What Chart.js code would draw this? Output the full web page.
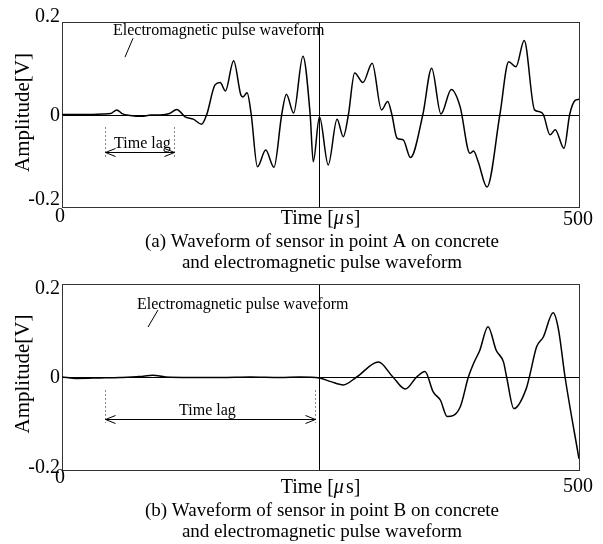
<!DOCTYPE html>
<html>
<head>
<meta charset="utf-8">
<script src="https://cdn.jsdelivr.net/npm/chart.js@4.4.0/dist/chart.umd.min.js"></script>
<style>
  html, body { margin: 0; padding: 0; background: #fff; }
  .panel { position: absolute; left: 0; width: 603px; height: 272px; }
</style>
</head>
<body>
<div class="panel" style="top:0"><canvas id="chartA" width="603" height="272"></canvas></div>
<div class="panel" style="top:272px"><canvas id="chartB" width="603" height="272"></canvas></div>
<script>
// time [us] / amplitude [V]
const timeA = [0, 20, 40, 47, 53, 58, 66, 77, 86, 95, 104, 111, 119, 127, 135, 140, 148, 153, 158, 166,
  173, 175, 179, 183, 189, 197, 205, 212.5, 217, 224, 233, 240, 243, 249, 257.5, 266, 272, 277, 283, 291,
  300, 309, 315, 319, 324, 330, 337, 349, 357.5, 366.5, 376.5, 385, 394.5, 398, 402.5, 411, 423.5, 432, 439, 447,
  457, 462, 465.5, 472, 477, 485.5, 491, 496, 500];
const ampA = [0, 0, 0.001, 0.002, 0.010, 0.002, -0.002, -0.004, -0.001, -0.001, 0.002, 0.011, -0.005, -0.010, -0.021, 0, 0.064, 0.069, 0.051, 0.116,
  0.042, 0.038, 0.047, 0, -0.113, -0.077, -0.114, 0, 0.044, 0.003, 0.126, 0, -0.102, -0.005, -0.109, -0.010, -0.048, 0, 0.090, 0.069,
  0.111, 0.010, 0.028, 0, -0.051, -0.055, -0.093, 0, 0.100, 0.001, 0.054, 0.017, -0.084, -0.079, -0.102, -0.157, 0, 0.114, 0.103, 0.160,
  0.010, 0.006, 0, -0.044, -0.033, -0.073, 0, 0.030, 0.033];

const timeB = [0, 14, 37, 56, 75, 88, 100, 124, 153, 182, 211, 230, 249, 260, 272, 285, 306, 320, 332, 343,
  351, 359, 366, 372.5, 385, 393, 398, 404, 412, 420, 427, 430, 437, 449, 452, 459, 465.5, 475, 480, 486.5, 500];
const ampB = [0, -0.003, -0.002, -0.001, 0.001, 0.004, 0, -0.001, -0.001, 0, -0.001, 0, -0.002, -0.010, -0.017, 0, 0.032, 0, -0.026, 0,
  0.012, -0.032, -0.050, -0.085, -0.065, 0, 0.029, 0.057, 0.108, 0.057, 0.032, 0, -0.068, -0.025, 0, 0.065, 0.086, 0.138, 0.104, 0, -0.176];

const yTicks = [0.2, 0, -0.2];
const yTickLabels = ['0.2', '0', '-0.2'];
const xTicks = [0, 500];
const xTickLabels = ['0', '500'];
const triggerTime = 249;

const serif = '"Liberation Serif", "Times New Roman", serif';

const decor = {
  id: 'decor',
  beforeDatasetsDraw(chart, args, o) {
    const { ctx, chartArea: a, scales: { x, y } } = chart;
    ctx.save();
    ctx.strokeStyle = '#000';
    ctx.lineWidth = 1;
    ctx.beginPath();
    const y0 = Math.round(y.getPixelForValue(0)) + 0.5;
    ctx.moveTo(a.left, y0); ctx.lineTo(a.right, y0);
    const xm = Math.round(x.getPixelForValue(triggerTime)) + 0.5;
    ctx.moveTo(xm, a.top); ctx.lineTo(xm, a.bottom);
    ctx.stroke();
    ctx.strokeStyle = '#333';
    ctx.strokeRect(a.left + 0.5, a.top + 0.5, a.right - a.left, a.bottom - a.top);
    ctx.restore();
  },
  afterDatasetsDraw(chart, args, o) {
    const { ctx, chartArea: a, scales: { x, y } } = chart;
    ctx.save();
    ctx.fillStyle = '#000';
    ctx.strokeStyle = '#000';

    // y tick labels
    ctx.font = '20px ' + serif;
    ctx.textAlign = 'right';
    ctx.textBaseline = 'alphabetic';
    yTicks.forEach((v, i) => {
      ctx.fillText(yTickLabels[i], a.left - 2, y.getPixelForValue(v) + o.yShift[i]);
    });
    // x tick labels
    ctx.textAlign = 'center';
    xTicks.forEach((t, i) => {
      ctx.fillText(xTickLabels[i], x.getPixelForValue(t) + (i === 0 ? -2 : -1), a.bottom + o.xBase[i]);
    });
    // x title with italic mu
    const tb = a.bottom + o.timeBase;
    const p1 = 'Time [', p3 = 's]';
    ctx.font = '20px ' + serif;
    const w1 = ctx.measureText(p1).width, w3 = ctx.measureText(p3).width;
    ctx.font = 'italic 20px ' + serif;
    const w2 = ctx.measureText('\u03bc').width + 2;
    let tx = (a.left + a.right) / 2 - (w1 + w2 + w3) / 2;
    ctx.textAlign = 'left';
    ctx.font = '20px ' + serif;
    ctx.fillText(p1, tx, tb);
    ctx.font = 'italic 20px ' + serif;
    ctx.fillText('\u03bc', tx + w1, tb);
    ctx.font = '20px ' + serif;
    ctx.fillText(p3, tx + w1 + w2, tb);

    // y title
    ctx.save();
    ctx.translate(29, (a.top + a.bottom) / 2 + o.titleDy);
    ctx.rotate(-Math.PI / 2);
    ctx.textAlign = 'center';
    ctx.font = '21px ' + serif;
    ctx.fillText('Amplitude[V]', 0, 0);
    ctx.restore();

    // caption
    ctx.textAlign = 'center';
    ctx.font = '19px ' + serif;
    o.caption.forEach((line, i) => ctx.fillText(line, 322, a.bottom + o.capBase[i]));

    // pulse note + leader
    ctx.font = '16px ' + serif;
    ctx.textAlign = 'left';
    ctx.fillText('Electromagnetic pulse waveform', x.getPixelForValue(o.note[0]), y.getPixelForValue(o.note[1]));
    ctx.lineWidth = 1;
    ctx.beginPath();
    ctx.moveTo(x.getPixelForValue(o.slash[0][0]), y.getPixelForValue(o.slash[0][1]));
    ctx.lineTo(x.getPixelForValue(o.slash[1][0]), y.getPixelForValue(o.slash[1][1]));
    ctx.stroke();

    // time lag markers
    const L = o.lag;
    const xa = Math.round(x.getPixelForValue(L.from)) + 0.5;
    const xb = Math.round(x.getPixelForValue(L.to)) + 0.5;
    ctx.save();
    ctx.strokeStyle = '#888';
    ctx.setLineDash([2, 2]);
    ctx.beginPath();
    [xa, xb].forEach(px => {
      ctx.moveTo(px, y.getPixelForValue(L.top));
      ctx.lineTo(px, y.getPixelForValue(L.bottom));
    });
    ctx.stroke();
    ctx.restore();
    const ya = Math.round(y.getPixelForValue(L.arrow)) + 0.5;
    ctx.beginPath();
    ctx.moveTo(xa, ya); ctx.lineTo(xb, ya);
    ctx.moveTo(xa + 10, ya - 4); ctx.lineTo(xa, ya); ctx.lineTo(xa + 10, ya + 4);
    ctx.moveTo(xb - 10, ya - 4); ctx.lineTo(xb, ya); ctx.lineTo(xb - 10, ya + 4);
    ctx.stroke();
    ctx.textAlign = 'center';
    ctx.fillText('Time lag', x.getPixelForValue(L.textT), y.getPixelForValue(L.textV));
    ctx.restore();
  }
};

function makeChart(id, times, amps, pad, opts) {
  return new Chart(document.getElementById(id), {
    type: 'line',
    data: {
      datasets: [{
        data: times.map((t, i) => ({ x: t, y: amps[i] })),
        borderColor: '#000',
        borderWidth: 1.5,
        pointRadius: 0,
        cubicInterpolationMode: 'monotone',
        fill: false
      }]
    },
    options: {
      responsive: false,
      animation: false,
      layout: { padding: pad },
      scales: {
        x: { type: 'linear', min: 0, max: 500, display: false },
        y: { type: 'linear', min: -0.2, max: 0.2, display: false }
      },
      plugins: {
        legend: { display: false },
        tooltip: { enabled: false },
        decor: opts
      }
    },
    plugins: [decor]
  });
}

makeChart('chartA', timeA, ampA, { left: 62, top: 22, right: 24, bottom: 65 }, {
  yShift: [0, 6, -2],
  xBase: [15, 18],
  timeBase: 17,
  titleDy: -2,
  caption: ['(a) Waveform of sensor in point A on concrete', 'and electromagnetic pulse waveform'],
  capBase: [40, 61],
  note: [49.3, 0.172],
  slash: [[68.7, 0.165], [60.9, 0.124]],
  lag: { from: 41.6, to: 108.3, top: -0.027, bottom: -0.092, arrow: -0.081, textT: 77.8, textV: -0.072 }
});

makeChart('chartB', timeB, ampB, { left: 62, top: 12, right: 24, bottom: 74 }, {
  yShift: [10, 6, 3],
  xBase: [13, 22],
  timeBase: 23,
  titleDy: -3,
  caption: ['(b) Waveform of sensor in point B on concrete', 'and electromagnetic pulse waveform'],
  capBase: [46, 67],
  note: [72.5, 0.147],
  slash: [[92.8, 0.144], [83.2, 0.1075]],
  lag: { from: 41.6, to: 244.7, top: -0.028, bottom: -0.099, arrow: -0.0903, textT: 140.7, textV: -0.0817 }
});
</script>
</body>
</html>
